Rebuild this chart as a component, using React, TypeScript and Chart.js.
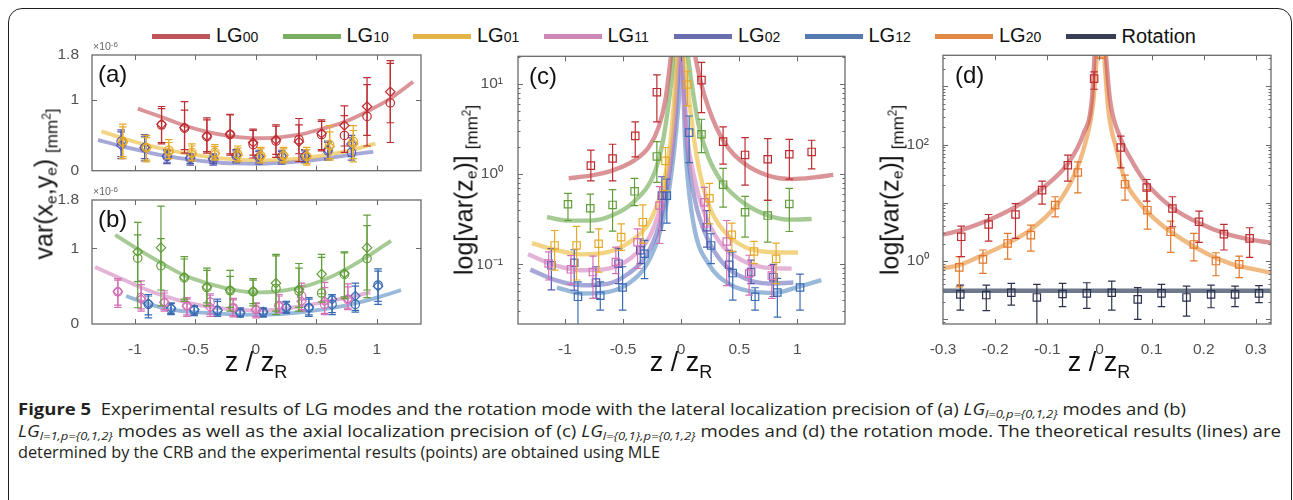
import React, { useEffect, useRef } from "react";
import { Chart, registerables } from "chart.js";
Chart.register(...registerables);

// ---------------- DATA ----------------
// Panel (a): LG l=0 modes, lateral precision (x1e-6 mm^2)
const A_LG00_X = [-0.78, -0.59, -0.405, -0.213, -0.023, 0.166, 0.356, 0.543, 0.732, 0.919, 1.111];
const A_LG00_C = [0.647, 0.603, 0.482, 0.513, 0.37, 0.42, 0.44, 0.51, 0.5, 0.77, 0.96];
const A_LG00_C_LO = [0.38, 0.25, 0.25, 0.22, 0.18, 0.19, 0.13, 0.28, 0.26, 0.35, 0.4];
const A_LG00_C_HI = [0.91, 0.98, 0.75, 0.8, 0.59, 0.65, 0.74, 0.72, 0.78, 1.32, 1.56];
const A_LG00_D = [0.66, 0.61, 0.49, 0.52, 0.4, 0.44, 0.41, 0.53, 0.64, 0.91, 1.12];
const A_LG00_D_LO = [0.4, 0.3, 0.27, 0.24, 0.22, 0.23, 0.24, 0.3, 0.35, 0.5, 0.68];
const A_LG00_D_HI = [0.88, 0.86, 0.72, 0.79, 0.57, 0.63, 0.65, 0.7, 0.92, 1.22, 1.52];
const A_LG00_CURVE_X = [-0.976, -0.78, -0.59, -0.405, -0.21, 0, 0.17, 0.36, 0.54, 0.73, 0.92, 1.11, 1.3];
const A_LG00_CURVE_Y = [0.88, 0.76, 0.64, 0.55, 0.49, 0.46, 0.47, 0.51, 0.59, 0.69, 0.84, 1.02, 1.26];

const A_LG01_X = [-1.1, -0.905, -0.72, -0.53, -0.34, -0.15, 0.04, 0.228, 0.42, 0.61, 0.805];
const A_LG01_C = [0.415, 0.326, 0.29, 0.26, 0.26, 0.237, 0.214, 0.214, 0.2, 0.37, 0.415];
const A_LG01_C_LO = [0.17, 0.125, 0.17, 0.14, 0.15, 0.125, 0.11, 0.11, 0.08, 0.15, 0.125];
const A_LG01_C_HI = [0.66, 0.5, 0.44, 0.38, 0.37, 0.35, 0.33, 0.33, 0.33, 0.64, 0.64];
const A_LG01_D = [0.4, 0.33, 0.26, 0.24, 0.24, 0.22, 0.2, 0.22, 0.21, 0.34, 0.38];
const A_LG01_D_LO = [0.2, 0.15, 0.17, 0.15, 0.16, 0.14, 0.12, 0.13, 0.1, 0.17, 0.17];
const A_LG01_D_HI = [0.62, 0.47, 0.4, 0.35, 0.34, 0.32, 0.31, 0.31, 0.3, 0.55, 0.57];
const A_LG01_CURVE_X = [-1.277, -1.1, -0.915, -0.715, -0.52, -0.33, -0.14, 0.04, 0.23, 0.42, 0.62, 0.81, 0.988];
const A_LG01_CURVE_Y = [0.558, 0.46, 0.37, 0.29, 0.228, 0.183, 0.156, 0.147, 0.156, 0.183, 0.237, 0.3, 0.384];

const A_LG02_X = [-1.114, -0.92, -0.735, -0.543, -0.353, -0.163, 0.026, 0.213, 0.405, 0.595, 0.79];
const A_LG02_C = [0.415, 0.326, 0.2, 0.17, 0.156, 0.21, 0.19, 0.2, 0.2, 0.28, 0.26];
const A_LG02_C_LO = [0.17, 0.14, 0.1, 0.08, 0.08, 0.11, 0.094, 0.094, 0.11, 0.15, 0.15];
const A_LG02_C_HI = [0.58, 0.51, 0.3, 0.24, 0.24, 0.3, 0.29, 0.29, 0.3, 0.42, 0.5];
const A_LG02_D = [0.36, 0.33, 0.21, 0.18, 0.17, 0.22, 0.2, 0.21, 0.21, 0.29, 0.38];
const A_LG02_D_LO = [0.2, 0.17, 0.12, 0.1, 0.1, 0.13, 0.12, 0.12, 0.13, 0.17, 0.2];
const A_LG02_D_HI = [0.55, 0.48, 0.28, 0.22, 0.22, 0.28, 0.27, 0.27, 0.28, 0.4, 0.47];
const A_LG02_CURVE_X = [-1.306, -1.114, -0.92, -0.735, -0.543, -0.353, -0.163, 0.026, 0.213, 0.405, 0.595, 0.79, 0.97];
const A_LG02_CURVE_Y = [0.4375, 0.348, 0.272, 0.205, 0.156, 0.12, 0.103, 0.098, 0.112, 0.138, 0.179, 0.228, 0.268];

// Panel (b): LG l=1 modes
const B_LG10_X = [-0.977, -0.785, -0.592, -0.405, -0.213, -0.023, 0.166, 0.356, 0.543, 0.732, 0.919];
const B_LG10_C = [0.87, 0.77, 0.61, 0.48, 0.44, 0.426, 0.47, 0.435, 0.41, 0.655, 0.865];
const B_LG10_C_LO = [0.215, 0.24, 0.3, 0.24, 0.17, 0.24, 0.125, 0.17, 0.29, 0.336, 0.35];
const B_LG10_C_HI = [1.345, 1.56, 0.89, 0.74, 0.71, 0.6, 0.92, 0.8, 0.92, 0.955, 1.44];
const B_LG10_D = [0.955, 1.01, 0.62, 0.49, 0.45, 0.43, 0.54, 0.46, 0.66, 0.67, 1.01];
const B_LG10_D_LO = [0.56, 0.45, 0.33, 0.28, 0.22, 0.27, 0.17, 0.22, 0.4, 0.36, 0.45];
const B_LG10_D_HI = [1.18, 1.13, 0.86, 0.71, 0.63, 0.58, 0.9, 0.74, 0.88, 0.94, 1.3];
const B_LG10_CURVE_X = [-1.163, -0.977, -0.785, -0.59, -0.405, -0.21, -0.02, 0.17, 0.36, 0.54, 0.73, 0.92, 1.117];
const B_LG10_CURVE_Y = [1.18, 0.99, 0.81, 0.64, 0.54, 0.46, 0.417, 0.43, 0.48, 0.57, 0.71, 0.89, 1.1];

const B_LG11_X = [-1.141, -0.949, -0.757, -0.57, -0.378, -0.188, 0.001, 0.191, 0.378, 0.568, 0.76];
const B_LG11_C = [0.426, 0.35, 0.28, 0.24, 0.29, 0.215, 0.19, 0.245, 0.37, 0.26, 0.327];
const B_LG11_C_LO = [0.22, 0.17, 0.17, 0.1, 0.13, 0.094, 0.08, 0.15, 0.17, 0.125, 0.19];
const B_LG11_C_HI = [0.6, 0.57, 0.44, 0.35, 0.4, 0.34, 0.28, 0.39, 0.54, 0.55, 0.53];
const B_LG11_D = [0.43, 0.33, 0.29, 0.24, 0.22, 0.21, 0.19, 0.24, 0.3, 0.3, 0.33];
const B_LG11_D_LO = [0.25, 0.2, 0.19, 0.12, 0.1, 0.11, 0.1, 0.16, 0.19, 0.14, 0.21];
const B_LG11_D_HI = [0.58, 0.52, 0.41, 0.33, 0.38, 0.32, 0.27, 0.37, 0.5, 0.48, 0.49];
const B_LG11_CURVE_X = [-1.33, -1.14, -0.95, -0.76, -0.565, -0.37, -0.18, 0, 0.19, 0.38, 0.575, 0.755, 0.947];
const B_LG11_CURVE_Y = [0.753, 0.619, 0.484, 0.372, 0.283, 0.224, 0.193, 0.179, 0.193, 0.238, 0.291, 0.35, 0.417];

const B_LG12_X = [-0.889, -0.702, -0.51, -0.318, -0.13, 0.059, 0.251, 0.438, 0.63, 0.822, 1.01];
const B_LG12_C = [0.26, 0.2, 0.18, 0.18, 0.148, 0.157, 0.215, 0.215, 0.26, 0.26, 0.516];
const B_LG12_C_LO = [0.08, 0.125, 0.11, 0.1, 0.09, 0.09, 0.14, 0.1, 0.125, 0.157, 0.26];
const B_LG12_C_HI = [0.39, 0.28, 0.24, 0.33, 0.215, 0.215, 0.3, 0.35, 0.39, 0.54, 0.73];
const B_LG12_D = [0.27, 0.21, 0.19, 0.18, 0.15, 0.16, 0.22, 0.22, 0.327, 0.37, 0.5];
const B_LG12_D_LO = [0.12, 0.14, 0.13, 0.12, 0.1, 0.1, 0.15, 0.12, 0.15, 0.18, 0.3];
const B_LG12_D_HI = [0.37, 0.27, 0.23, 0.3, 0.2, 0.2, 0.29, 0.33, 0.37, 0.5, 0.7];
const B_LG12_CURVE_X = [-1.073, -0.88, -0.7, -0.51, -0.32, -0.125, 0.067, 0.26, 0.45, 0.645, 0.837, 1.03, 1.2];
const B_LG12_CURVE_Y = [0.37, 0.26, 0.19, 0.157, 0.139, 0.125, 0.125, 0.139, 0.17, 0.215, 0.28, 0.363, 0.45];

// Panel (c): axial precision, log scale (mm^2)
const C_LG00_X = [-0.777, -0.59, -0.395, -0.209, 0.175, 0.361, 0.55, 0.745, 0.931, 1.123];
const C_LG00_Y = [1.24, 1.49, 2.65, 8.09, 11.0, 2.29, 1.63, 1.46, 1.66, 1.76];
const C_LG00_LO = [0.84, 0.84, 1.55, 3.78, 4.79, 1.29, 0.756, 0.51, 0.88, 1.14];
const C_LG00_HI = [1.84, 2.14, 3.78, 12.6, 17.3, 3.33, 2.54, 2.47, 2.43, 2.37];
const C_LG00_CL_X = [-0.968, -0.781, -0.595, -0.41, -0.281, -0.195, -0.138, -0.103, -0.08];
const C_LG00_CL_Y = [0.9, 0.96, 1.09, 1.4, 1.97, 3.27, 6.4, 13.8, 25];
const C_LG00_CR_X = [0.106, 0.163, 0.235, 0.364, 0.55, 0.75, 0.951, 1.15, 1.309];
const C_LG00_CR_Y = [25, 11.2, 5.43, 2.33, 1.29, 0.96, 0.88, 0.92, 0.98];

const C_LG10_X = [-0.974, -0.782, -0.59, -0.401, -0.209, 0.175, 0.361, 0.55, 0.745, 0.931];
const C_LG10_Y = [0.463, 0.418, 0.455, 0.644, 1.57, 2.76, 0.763, 0.378, 0.347, 0.467];
const C_LG10_LO = [0.306, 0.227, 0.233, 0.447, 0.81, 1.73, 0.43, 0.2, 0.176, 0.231];
const C_LG10_HI = [0.612, 0.6, 0.672, 0.896, 2.29, 4.05, 1.155, 0.567, 0.51, 0.695];
const C_LG10_CL_X = [-1.155, -0.968, -0.782, -0.596, -0.41, -0.223, -0.152, -0.109, -0.08, -0.063];
const C_LG10_CL_Y = [0.333, 0.305, 0.305, 0.347, 0.49, 1.09, 2.51, 5.9, 12.6, 25];
const C_LG10_CR_X = [0.049, 0.092, 0.149, 0.235, 0.364, 0.55, 0.75, 0.937, 1.123];
const C_LG10_CR_Y = [25, 9.8, 3.56, 1.53, 0.776, 0.467, 0.347, 0.313, 0.318];

const C_LG01_X = [-1.089, -0.9, -0.71, -0.516, -0.33, -0.135, 0.054, 0.244, 0.436, 0.627, 0.817];
const C_LG01_Y = [0.162, 0.162, 0.169, 0.2, 0.293, 1.4, 9.84, 0.54, 0.212, 0.139, 0.115];
const C_LG01_LO = [0.086, 0.067, 0.082, 0.143, 0.172, 0.655, 5.7, 0.281, 0.139, 0.102, 0.061];
const C_LG01_HI = [0.237, 0.263, 0.247, 0.281, 0.455, 1.97, 13.8, 0.789, 0.286, 0.18, 0.172];
const C_LG01_CL_X = [-1.284, -1.089, -0.854, -0.625, -0.424, -0.281, -0.195, -0.123, -0.08, -0.052, -0.037];
const C_LG01_CL_Y = [0.172, 0.145, 0.129, 0.137, 0.184, 0.282, 0.508, 1.18, 3.27, 9.8, 25];
const C_LG01_CR_X = [0.02, 0.063, 0.135, 0.235, 0.364, 0.55, 0.75, 1.006];
const C_LG01_CR_Y = [25, 7.6, 1.53, 0.467, 0.237, 0.155, 0.137, 0.135];

const C_LG11_X = [-1.14, -0.948, -0.759, -0.562, -0.375, -0.186, 0.2, 0.392, 0.585, 0.78];
const C_LG11_Y = [0.102, 0.088, 0.082, 0.106, 0.176, 0.448, 0.487, 0.179, 0.079, 0.075];
const C_LG11_LO = [0.067, 0.06, 0.042, 0.079, 0.09, 0.17, 0.258, 0.058, 0.0456, 0.042];
const C_LG11_HI = [0.137, 0.125, 0.123, 0.155, 0.247, 0.725, 0.713, 0.306, 0.126, 0.097];
const C_LG11_CL_X = [-1.318, -1.083, -0.854, -0.625, -0.424, -0.281, -0.195, -0.115, -0.066, -0.037, -0.025];
const C_LG11_CL_Y = [0.129, 0.0975, 0.086, 0.0895, 0.12, 0.192, 0.362, 0.918, 3.0, 11.6, 25];
const C_LG11_CR_X = [0.0, 0.034, 0.106, 0.192, 0.321, 0.521, 0.722, 0.951];
const C_LG11_CR_Y = [25, 4.2, 1.0, 0.394, 0.184, 0.111, 0.092, 0.0895];

const C_LG02_X = [-1.117, -0.92, -0.733, -0.539, -0.352, -0.166, 0.221, 0.413, 0.602, 0.794];
const C_LG02_Y = [0.0975, 0.104, 0.0628, 0.1016, 0.143, 0.577, 0.258, 0.099, 0.082, 0.072];
const C_LG02_LO = [0.052, 0.0516, 0.042, 0.061, 0.102, 0.237, 0.155, 0.0586, 0.061, 0.044];
const C_LG02_HI = [0.149, 0.145, 0.094, 0.149, 0.192, 0.934, 0.394, 0.143, 0.111, 0.1];
const C_LG02_CL_X = [-1.298, -1.083, -0.854, -0.625, -0.453, -0.309, -0.195, -0.115, -0.057, -0.023, -0.012];
const C_LG02_CL_Y = [0.0873, 0.0667, 0.0586, 0.0612, 0.079, 0.12, 0.258, 0.776, 3.27, 13.8, 25];
const C_LG02_CR_X = [0.006, 0.057, 0.12, 0.221, 0.364, 0.55, 0.75, 0.966];
const C_LG02_CR_Y = [25, 1.81, 0.508, 0.2, 0.1016, 0.0695, 0.0612, 0.0628];

const C_LG12_X = [-0.888, -0.696, -0.504, -0.315, -0.123, 0.069, 0.258, 0.444, 0.636, 0.828, 1.023];
const C_LG12_Y = [0.0436, 0.0448, 0.0553, 0.131, 0.577, 2.88, 0.162, 0.08, 0.0436, 0.0487, 0.0553];
const C_LG12_LO = [0.015, 0.031, 0.031, 0.0695, 0.286, 1.34, 0.1016, 0.04, 0.031, 0.026, 0.031];
const C_LG12_HI = [0.064, 0.064, 0.094, 0.184, 0.88, 4.4, 0.218, 0.137, 0.055, 0.07, 0.078];
const C_LG12_CL_X = [-1.069, -0.854, -0.625, -0.453, -0.309, -0.195, -0.115, -0.052, -0.009, 0.0];
const C_LG12_CL_Y = [0.0553, 0.0475, 0.0495, 0.0612, 0.0935, 0.2, 0.553, 2.33, 11.6, 25];
const C_LG12_CR_X = [0.01, 0.03, 0.06, 0.12, 0.235, 0.407, 0.636, 0.808, 1.006, 1.206];
const C_LG12_CR_Y = [25, 3.0, 0.8, 0.23, 0.1016, 0.0612, 0.0495, 0.0483, 0.0562, 0.0667];

// Panel (d): rotation mode vs LG00 / LG20
const D_LG00_X = [-0.265, -0.2125, -0.161, -0.11, -0.0606, -0.0102, 0.0408, 0.0906, 0.14, 0.191, 0.2387, 0.288];
const D_LG00_Y = [2.61, 4.25, 6.31, 16.5, 44.2, 1353, 88.8, 18.3, 8.0, 4.72, 2.9, 2.45];
const D_LG00_LO = [1.19, 2.2, 2.45, 9.5, 23.5, 889, 39.8, 10.7, 3.88, 2.09, 1.55, 1.16];
const D_LG00_HI = [3.98, 6.3, 9.7, 23.5, 65.6, 1762, 139, 25.1, 12.7, 7.2, 4.25, 3.73];
const D_LG00_CL_X = [-0.305, -0.265, -0.2125, -0.161, -0.11, -0.0606, -0.0306, -0.0147, -0.0083];
const D_LG00_CL_Y = [2.79, 3.4, 5.05, 8.5, 17.6, 47.2, 154, 575, 5000];
const D_LG00_CR_X = [0.0108, 0.0204, 0.0396, 0.0651, 0.0906, 0.1417, 0.1927, 0.2406, 0.288, 0.33];
const D_LG00_CR_Y = [5000, 575, 135, 47.2, 21.4, 8.0, 4.42, 2.98, 2.35, 2.06];

const D_LG20_X = [-0.2687, -0.2234, -0.176, -0.1315, -0.0849, -0.0415, 0.003, 0.0491, 0.0919, 0.1366, 0.181, 0.2234, 0.268];
const D_LG20_Y = [0.779, 1.07, 2.01, 2.79, 9.12, 33.1, 3500, 20.9, 7.48, 3.18, 1.93, 1.0, 0.877];
const D_LG20_LO = [0.36, 0.615, 1.08, 1.48, 5.75, 14.8, 3000, 11.1, 3.54, 1.41, 1.01, 0.56, 0.518];
const D_LG20_HI = [1.19, 1.55, 2.98, 4.14, 12.7, 50.5, 4000, 29.8, 16.9, 4.85, 2.98, 1.39, 1.22];
const D_LG20_CL_X = [-0.305, -0.2687, -0.2234, -0.176, -0.1315, -0.0849, -0.0498, -0.0274, -0.0115, -0.0038];
const D_LG20_CL_Y = [0.748, 0.854, 1.27, 2.01, 3.49, 8.5, 27.9, 104, 575, 5000];
const D_LG20_CR_X = [0.0077, 0.0172, 0.0332, 0.0491, 0.0779, 0.116, 0.161, 0.2055, 0.25, 0.288, 0.33];
const D_LG20_CR_Y = [5000, 388, 80, 24.5, 9.7, 4.42, 2.29, 1.35, 0.912, 0.748, 0.63];

const D_ROT_X = [-0.2668, -0.217, -0.169, -0.12, -0.0708, -0.0242, 0.0236, 0.0734, 0.119, 0.167, 0.214, 0.26, 0.306];
const D_ROT_Y = [0.268, 0.261, 0.286, 0.238, 0.272, 0.279, 0.286, 0.22, 0.279, 0.238, 0.268, 0.268, 0.279];
const D_ROT_LO = [0.1445, 0.141, 0.176, 0.07, 0.165, 0.154, 0.1445, 0.1, 0.165, 0.114, 0.158, 0.165, 0.193];
const D_ROT_HI = [0.388, 0.388, 0.414, 0.398, 0.414, 0.425, 0.454, 0.349, 0.398, 0.373, 0.388, 0.373, 0.378];
const D_ROT_CURVE_X = [-0.305, 0.33];
const D_ROT_CURVE_Y = [0.31, 0.31];

// ticks
const AB_X_TICKS = [-1, -0.5, 0, 0.5, 1];
const AB_X_LABELS = ["-1", "-0.5", "0", "0.5", "1"];
const AB_Y_TICKS = [0, 1, 1.64];
const AB_Y_LABELS = ["0", "1", "1.8"];
const C_X_TICKS = [-1, -0.5, 0, 0.5, 1];
const C_X_LABELS = ["-1", "-0.5", "0", "0.5", "1"];
const C_Y_LABEL_VALUES = [0.1, 1, 10];
const C_Y_LABELS = ["10\u207B\u00B9", "10\u2070", "10\u00B9"];
const D_X_TICKS = [-0.3, -0.2, -0.1, 0, 0.1, 0.2, 0.3];
const D_X_LABELS = ["-0.3", "-0.2", "-0.1", "0", "0.1", "0.2", "0.3"];
const D_Y_LABEL_VALUES = [1, 100];
const D_Y_LABELS = ["10\u2070", "10\u00B2"];

const LEGEND_SUBS = ["00", "10", "01", "11", "02", "12", "20", ""];
const LEGEND_BASE = ["LG", "LG", "LG", "LG", "LG", "LG", "LG", "Rotation"];

// ---------------- STYLE ----------------
const COL = {
  red: { pt: "rgb(190,45,50)", ln: "rgba(196,80,86,0.62)", lg: "rgb(192,86,90)" },
  green: { pt: "rgb(98,158,58)", ln: "rgba(110,170,82,0.62)", lg: "rgb(122,174,96)" },
  yellow: { pt: "rgb(230,170,40)", ln: "rgba(236,192,72,0.68)", lg: "rgb(228,180,70)" },
  pink: { pt: "rgb(212,112,182)", ln: "rgba(214,140,196,0.66)", lg: "rgb(205,135,185)" },
  purple: { pt: "rgb(84,90,176)", ln: "rgba(112,116,190,0.62)", lg: "rgb(105,110,175)" },
  blue: { pt: "rgb(58,108,180)", ln: "rgba(92,140,196,0.62)", lg: "rgb(85,122,176)" },
  orange: { pt: "rgb(226,120,44)", ln: "rgba(236,160,82,0.72)", lg: "rgb(225,136,70)" },
  dark: { pt: "rgb(44,50,76)", ln: "rgba(62,76,102,0.75)", lg: "rgb(55,62,85)" },
};
const LEGEND_COLORS = [COL.red.lg, COL.green.lg, COL.yellow.lg, COL.pink.lg, COL.purple.lg, COL.blue.lg, COL.orange.lg, COL.dark.lg];

const FONT = '"Liberation Sans", Arial, Helvetica, sans-serif';
const TICK_COLOR = "#505050";
const FRAME_COLOR = "#6a6a6a";

// ---------------- PLUGINS ----------------
const errorBarPlugin = {
  id: "errbars",
  afterDatasetDraw(chart: any, args: any) {
    const ds: any = chart.data.datasets[args.index];
    if (!ds.errLo) return;
    const ys = chart.scales.y;
    const { ctx, chartArea: a } = chart;
    const cap = 3.8;
    ctx.save();
    ctx.beginPath();
    ctx.rect(a.left, a.top, a.right - a.left, a.bottom - a.top);
    ctx.clip();
    ctx.strokeStyle = ds.errColor;
    ctx.lineWidth = 1.2;
    args.meta.data.forEach((pt: any, i: number) => {
      const x = pt.x;
      const y1 = ys.getPixelForValue(ds.errLo[i]);
      const y2 = ys.getPixelForValue(ds.errHi[i]);
      ctx.beginPath();
      ctx.moveTo(x, y1);
      ctx.lineTo(x, y2);
      ctx.moveTo(x - cap, y1);
      ctx.lineTo(x + cap, y1);
      ctx.moveTo(x - cap, y2);
      ctx.lineTo(x + cap, y2);
      ctx.stroke();
    });
    ctx.restore();
  },
};

const framePlugin = {
  id: "frame",
  afterDraw(chart: any) {
    const { ctx, chartArea: a } = chart;
    ctx.save();
    ctx.strokeStyle = FRAME_COLOR;
    ctx.lineWidth = 1.3;
    ctx.strokeRect(a.left, a.top, a.right - a.left, a.bottom - a.top);
    ctx.lineWidth = 1;
    const xs = chart.scales.x;
    ctx.beginPath();
    xs.ticks.forEach((t: any) => {
      const px = Math.round(xs.getPixelForValue(t.value)) + 0.5;
      if (px <= a.left + 1 || px >= a.right - 1) return;
      ctx.moveTo(px, a.bottom);
      ctx.lineTo(px, a.bottom - 5);
      ctx.moveTo(px, a.top);
      ctx.lineTo(px, a.top + 5);
    });
    const ys = chart.scales.y;
    ys.ticks.forEach((t: any) => {
      const py = Math.round(ys.getPixelForValue(t.value)) + 0.5;
      if (py <= a.top + 1 || py >= a.bottom - 1) return;
      const len = t.minor ? 2.5 : 5;
      ctx.moveTo(a.left, py);
      ctx.lineTo(a.left + len, py);
      ctx.moveTo(a.right, py);
      ctx.lineTo(a.right - len, py);
    });
    ctx.stroke();
    ctx.restore();
  },
};

// ---------------- HELPERS ----------------
function xy(xs: number[], ys: number[]) {
  return xs.map((x, i) => ({ x, y: ys[i] }));
}
function curve(xs: number[], ys: number[], color: string, width = 4) {
  return {
    data: xy(xs, ys),
    showLine: true,
    borderColor: color,
    borderWidth: width,
    pointRadius: 0,
    cubicInterpolationMode: "monotone",
    order: 2,
    clip: 0,
  };
}
function pts(xs: number[], ys: number[], lo: number[], hi: number[], color: string, style: string, radius: number) {
  return {
    data: xy(xs, ys),
    showLine: false,
    pointStyle: style,
    pointRadius: radius,
    pointBorderColor: color,
    pointBackgroundColor: "rgba(0,0,0,0)",
    pointBorderWidth: 1.2,
    errLo: lo,
    errHi: hi,
    errColor: color,
    order: 1,
    clip: 0,
  };
}
function labelFor(values: number[], labels: string[]) {
  return (v: any) => {
    const i = values.findIndex((t) => Math.abs(t - v) <= 1e-9 * Math.max(1, Math.abs(t)));
    return i >= 0 ? labels[i] : "";
  };
}
function logTicks(min: number, max: number) {
  const out: any[] = [];
  for (let e = Math.floor(Math.log10(min)); e <= Math.ceil(Math.log10(max)); e++) {
    for (let m = 1; m <= 9; m++) {
      const v = m * Math.pow(10, e);
      if (v >= min && v <= max) out.push({ value: v, minor: m !== 1 });
    }
  }
  return out;
}
const tickFont = { family: FONT, size: 15.5 };

function makeConfig(datasets: any[], o: any) {
  const xScale: any = {
    type: "linear",
    min: o.xmin,
    max: o.xmax,
    grid: { display: false },
    border: { display: false },
    ticks: {
      display: o.xLabels !== null,
      autoSkip: false,
      maxRotation: 0,
      padding: 8,
      color: TICK_COLOR,
      font: tickFont,
      callback: o.xLabels ? labelFor(o.xTicks, o.xLabels) : () => "",
    },
    afterBuildTicks: (s: any) => {
      s.ticks = o.xTicks.map((v: number) => ({ value: v }));
    },
    afterFit: (s: any) => {
      s.height = o.xh;
    },
  };
  const yScale: any = {
    type: o.log ? "logarithmic" : "linear",
    min: o.ymin,
    max: o.ymax,
    grid: { display: false },
    border: { display: false },
    ticks: {
      autoSkip: false,
      padding: o.ypad,
      color: TICK_COLOR,
      font: tickFont,
      callback: labelFor(o.yLabelValues, o.yLabels),
    },
    afterBuildTicks: (s: any) => {
      s.ticks = o.log ? logTicks(o.ymin, o.ymax) : o.yLabelValues.map((v: number) => ({ value: v }));
    },
    afterFit: (s: any) => {
      s.width = o.yw;
    },
  };
  return {
    type: "scatter",
    data: { datasets },
    options: {
      responsive: false,
      animation: false,
      events: [],
      layout: { padding: { top: o.pt, right: o.pr, left: 0, bottom: 0 } },
      scales: { x: xScale, y: yScale },
      plugins: { legend: { display: false }, tooltip: { enabled: false } },
    },
    plugins: [errorBarPlugin, framePlugin],
  };
}

function ChartPanel({ left, top, width, height, build }: any) {
  const ref = useRef<HTMLCanvasElement>(null);
  useEffect(() => {
    const chart = new Chart(ref.current as any, build() as any);
    return () => chart.destroy();
  }, []);
  return <canvas ref={ref} width={width} height={height} style={{ position: "absolute", left, top, width, height }} />;
}

const R_C = 4.2;
const R_D = 4.7;
const R_S = 5.2;

function buildA() {
  return makeConfig(
    [
      pts(A_LG00_X, A_LG00_C, A_LG00_C_LO, A_LG00_C_HI, COL.red.pt, "circle", R_C),
      pts(A_LG00_X, A_LG00_D, A_LG00_D_LO, A_LG00_D_HI, COL.red.pt, "rectRot", R_D),
      pts(A_LG01_X, A_LG01_C, A_LG01_C_LO, A_LG01_C_HI, COL.yellow.pt, "circle", R_C),
      pts(A_LG01_X, A_LG01_D, A_LG01_D_LO, A_LG01_D_HI, COL.yellow.pt, "rectRot", R_D),
      pts(A_LG02_X, A_LG02_C, A_LG02_C_LO, A_LG02_C_HI, COL.purple.pt, "circle", R_C),
      pts(A_LG02_X, A_LG02_D, A_LG02_D_LO, A_LG02_D_HI, COL.purple.pt, "rectRot", R_D),
      curve(A_LG00_CURVE_X, A_LG00_CURVE_Y, COL.red.ln, 3.8),
      curve(A_LG01_CURVE_X, A_LG01_CURVE_Y, COL.yellow.ln, 3.8),
      curve(A_LG02_CURVE_X, A_LG02_CURVE_Y, COL.purple.ln, 3.8),
    ],
    { xmin: -1.355, xmax: 1.365, xTicks: AB_X_TICKS, xLabels: null, xh: 6, ymin: 0, ymax: 1.64, yLabelValues: AB_Y_TICKS, yLabels: AB_Y_LABELS, yw: 42, ypad: 5, pt: 15, pr: 9 }
  );
}
function buildB() {
  return makeConfig(
    [
      pts(B_LG10_X, B_LG10_C, B_LG10_C_LO, B_LG10_C_HI, COL.green.pt, "circle", R_C),
      pts(B_LG10_X, B_LG10_D, B_LG10_D_LO, B_LG10_D_HI, COL.green.pt, "rectRot", R_D),
      pts(B_LG11_X, B_LG11_C, B_LG11_C_LO, B_LG11_C_HI, COL.pink.pt, "circle", R_C),
      pts(B_LG11_X, B_LG11_D, B_LG11_D_LO, B_LG11_D_HI, COL.pink.pt, "rectRot", R_D),
      pts(B_LG12_X, B_LG12_C, B_LG12_C_LO, B_LG12_C_HI, COL.blue.pt, "circle", R_C),
      pts(B_LG12_X, B_LG12_D, B_LG12_D_LO, B_LG12_D_HI, COL.blue.pt, "rectRot", R_D),
      curve(B_LG10_CURVE_X, B_LG10_CURVE_Y, COL.green.ln, 3.8),
      curve(B_LG11_CURVE_X, B_LG11_CURVE_Y, COL.pink.ln, 3.8),
      curve(B_LG12_CURVE_X, B_LG12_CURVE_Y, COL.blue.ln, 3.8),
    ],
    { xmin: -1.355, xmax: 1.365, xTicks: AB_X_TICKS, xLabels: AB_X_LABELS, xh: 36, ymin: 0, ymax: 1.64, yLabelValues: AB_Y_TICKS, yLabels: AB_Y_LABELS, yw: 42, ypad: 5, pt: 15, pr: 9 }
  );
}
function buildC() {
  const groups: any[] = [
    [C_LG00_X, C_LG00_Y, C_LG00_LO, C_LG00_HI, C_LG00_CL_X, C_LG00_CL_Y, C_LG00_CR_X, C_LG00_CR_Y, COL.red],
    [C_LG10_X, C_LG10_Y, C_LG10_LO, C_LG10_HI, C_LG10_CL_X, C_LG10_CL_Y, C_LG10_CR_X, C_LG10_CR_Y, COL.green],
    [C_LG01_X, C_LG01_Y, C_LG01_LO, C_LG01_HI, C_LG01_CL_X, C_LG01_CL_Y, C_LG01_CR_X, C_LG01_CR_Y, COL.yellow],
    [C_LG11_X, C_LG11_Y, C_LG11_LO, C_LG11_HI, C_LG11_CL_X, C_LG11_CL_Y, C_LG11_CR_X, C_LG11_CR_Y, COL.pink],
    [C_LG02_X, C_LG02_Y, C_LG02_LO, C_LG02_HI, C_LG02_CL_X, C_LG02_CL_Y, C_LG02_CR_X, C_LG02_CR_Y, COL.purple],
    [C_LG12_X, C_LG12_Y, C_LG12_LO, C_LG12_HI, C_LG12_CL_X, C_LG12_CL_Y, C_LG12_CR_X, C_LG12_CR_Y, COL.blue],
  ];
  const ds: any[] = [];
  groups.forEach((g) => ds.push(pts(g[0], g[1], g[2], g[3], g[8].pt, "rect", R_S)));
  groups.forEach((g) => {
    ds.push(curve(g[4], g[5], g[8].ln, 4.4));
    ds.push(curve(g[6], g[7], g[8].ln, 4.4));
  });
  return makeConfig(ds, {
    xmin: -1.404, xmax: 1.41, xTicks: C_X_TICKS, xLabels: C_X_LABELS, xh: 36,
    log: true, ymin: 0.0218, ymax: 20.2, yLabelValues: C_Y_LABEL_VALUES, yLabels: C_Y_LABELS, yw: 40, ypad: 7, pt: 15, pr: 13,
  });
}
function buildD() {
  return makeConfig(
    [
      pts(D_LG00_X, D_LG00_Y, D_LG00_LO, D_LG00_HI, COL.red.pt, "rect", R_S),
      pts(D_LG20_X, D_LG20_Y, D_LG20_LO, D_LG20_HI, COL.orange.pt, "rect", R_S),
      pts(D_ROT_X, D_ROT_Y, D_ROT_LO, D_ROT_HI, COL.dark.pt, "rect", R_S),
      curve(D_LG00_CL_X, D_LG00_CL_Y, COL.red.ln, 4.4),
      curve(D_LG00_CR_X, D_LG00_CR_Y, COL.red.ln, 4.4),
      curve(D_LG20_CL_X, D_LG20_CL_Y, COL.orange.ln, 4.4),
      curve(D_LG20_CR_X, D_LG20_CR_Y, COL.orange.ln, 4.4),
      curve(D_ROT_CURVE_X, D_ROT_CURVE_Y, COL.dark.ln, 4.4),
    ],
    {
      xmin: -0.3, xmax: 0.329, xTicks: D_X_TICKS, xLabels: D_X_LABELS, xh: 36,
      log: true, ymin: 0.0832, ymax: 3400, yLabelValues: D_Y_LABEL_VALUES, yLabels: D_Y_LABELS, yw: 40, ypad: 6, pt: 15, pr: 17,
    }
  );
}

// ---------------- TEXT PIECES ----------------
function RotTitle({ cx, cy, children }: any) {
  return (
    <div
      style={{
        position: "absolute", left: cx, top: cy, transform: "translate(-50%,-50%) rotate(-90deg)",
        whiteSpace: "nowrap", fontFamily: FONT, color: "#111", lineHeight: 1,
      }}
    >
      {children}
    </div>
  );
}
function ZTitle({ cx }: any) {
  return (
    <div style={{ position: "absolute", left: cx, top: 349, transform: "translateX(-50%)", whiteSpace: "nowrap", fontFamily: FONT, fontSize: 27, lineHeight: 1, color: "#111" }}>
      z / z<span style={{ fontSize: 18, position: "relative", top: 7 }}>R</span>
    </div>
  );
}
const sub: any = { fontSize: "0.62em", position: "relative", top: "0.28em" };
const unit: any = { fontSize: 17, position: "relative", top: 5, marginLeft: 6 };
const supU: any = { fontSize: "0.7em", position: "relative", top: "-0.55em" };
const capSub: any = { fontSize: "0.7em", position: "relative", top: "0.3em" };

const CAPTION_TARGETS = [1168, 1263, 642];

export default function App() {
  const capRefs = [useRef<HTMLDivElement>(null), useRef<HTMLDivElement>(null), useRef<HTMLDivElement>(null)];
  useEffect(() => {
    const fit = () => {
      capRefs.forEach((r, i) => {
        const el = r.current;
        if (!el) return;
        el.style.transform = "none";
        const w = el.getBoundingClientRect().width;
        if (w > 0) el.style.transform = `scaleX(${CAPTION_TARGETS[i] / w})`;
      });
    };
    fit();
    (document as any).fonts?.ready?.then(fit);
  }, []);

  const capStyle: any = {
    position: "absolute", left: 18, whiteSpace: "nowrap", fontSize: 16.5, lineHeight: "16px",
    fontFamily: '"Liberation Sans Narrow", "Open Sans", "Liberation Sans", sans-serif', color: "#231f20",
    transformOrigin: "0 0", display: "inline-block",
  };

  return (
    <div style={{ position: "absolute", left: 0, top: 0, width: 1293, height: 500, overflow: "hidden", background: "#fff" }}>
      <div style={{ position: "absolute", left: 8, top: 8, width: 1284, height: 600, border: "1.5px solid #231f20", borderRadius: 14, boxSizing: "border-box" }} />

      {/* legend */}
      <div style={{ position: "absolute", left: 152, top: 24, display: "flex", fontFamily: FONT, color: "#111" }}>
        {LEGEND_BASE.map((b, i) => (
          <div key={i} style={{ width: 130.5, display: "flex", alignItems: "center", height: 24 }}>
            <div style={{ width: 58, height: 5, background: LEGEND_COLORS[i], marginRight: 6 }} />
            <span style={{ fontSize: 20, lineHeight: "24px" }}>
              {b}
              {LEGEND_SUBS[i] && <span style={{ fontSize: 14 }}>{LEGEND_SUBS[i]}</span>}
            </span>
          </div>
        ))}
      </div>

      <ChartPanel left={50} top={40} width={380} height={145} build={buildA} />
      <ChartPanel left={50} top={185} width={380} height={175} build={buildB} />
      <ChartPanel left={478} top={40} width={380} height={320} build={buildC} />
      <ChartPanel left={903} top={40} width={385} height={320} build={buildD} />

      {/* panel letters */}
      {[["(a)", 98, 62], ["(b)", 98, 207], ["(c)", 529, 64], ["(d)", 955, 63]].map(([t, x, y]: any) => (
        <div key={t} style={{ position: "absolute", left: x, top: y, fontFamily: FONT, fontSize: 24, lineHeight: 1, color: "#111" }}>{t}</div>
      ))}

      {/* x10^-6 */}
      {[41, 186].map((y) => (
        <div key={y} style={{ position: "absolute", left: 93, top: y, fontFamily: FONT, fontSize: 10.5, lineHeight: 1, color: "#666" }}>
          ×10<span style={{ fontSize: 8, position: "relative", top: -3 }}>-6</span>
        </div>
      ))}

      <RotTitle cx={44} cy={184}>
        <span style={{ fontSize: 25 }}>
          var(x<span style={sub}>e</span>,y<span style={sub}>e</span>)
        </span>
        <span style={unit}>
          [mm<span style={supU}>2</span>]
        </span>
      </RotTitle>
      <RotTitle cx={464} cy={190}>
        <span style={{ fontSize: 25 }}>
          log[var(z<span style={sub}>e</span>)]
        </span>
        <span style={unit}>
          [mm<span style={supU}>2</span>]
        </span>
      </RotTitle>
      <RotTitle cx={890} cy={190}>
        <span style={{ fontSize: 25 }}>
          log[var(z<span style={sub}>e</span>)]
        </span>
        <span style={unit}>
          [mm<span style={supU}>2</span>]
        </span>
      </RotTitle>

      <ZTitle cx={256} />
      <ZTitle cx={681} />
      <ZTitle cx={1099} />

      {/* caption */}
      <div ref={capRefs[0]} style={{ ...capStyle, top: 401 }}>
        <b>Figure 5</b>&nbsp; Experimental results of LG modes and the rotation mode with the lateral localization precision of (a){" "}
        <i>
          LG<span style={capSub}>l=0,p={"{0,1,2}"}</span>
        </i>{" "}
        modes and (b)
      </div>
      <div ref={capRefs[1]} style={{ ...capStyle, top: 423 }}>
        <i>
          LG<span style={capSub}>l=1,p={"{0,1,2}"}</span>
        </i>{" "}
        modes as well as the axial localization precision of (c){" "}
        <i>
          LG<span style={capSub}>l={"{0,1}"},p={"{0,1,2}"}</span>
        </i>{" "}
        modes and (d) the rotation mode. The theoretical results (lines) are
      </div>
      <div ref={capRefs[2]} style={{ ...capStyle, top: 444 }}>
        determined by the CRB and the experimental results (points) are obtained using MLE
      </div>
    </div>
  );
}
